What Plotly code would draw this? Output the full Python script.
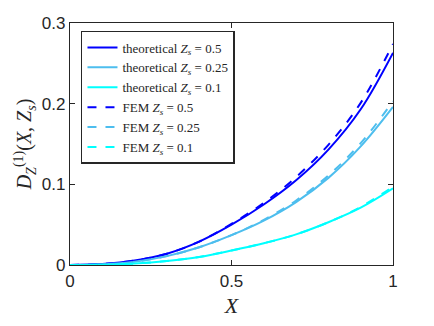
import plotly.graph_objects as go

# X positions and values
x_vals = [0, 0.1, 0.2, 0.3, 0.4, 0.5, 0.6, 0.7, 0.8, 0.9, 1.0]

theo_05 = [0, 0.0012, 0.0055, 0.014, 0.029, 0.050, 0.075, 0.105, 0.143, 0.193, 0.263]
theo_025 = [0, 0.0008, 0.004, 0.011, 0.022, 0.037, 0.055, 0.078, 0.108, 0.147, 0.196]
theo_01 = [0, 0.0003, 0.0018, 0.005, 0.010, 0.018, 0.027, 0.038, 0.053, 0.071, 0.095]

fem_05 = [0, 0.0012, 0.0055, 0.014, 0.029, 0.051, 0.077, 0.109, 0.149, 0.201, 0.274]
fem_025 = [0, 0.0008, 0.004, 0.011, 0.022, 0.037, 0.056, 0.080, 0.111, 0.151, 0.203]
fem_01 = [0, 0.0003, 0.0018, 0.005, 0.010, 0.018, 0.027, 0.038, 0.053, 0.072, 0.097]

zs_labels = ["0.5", "0.25", "0.1"]
colors = ["#0000ff", "#4dbeee", "#00ffff"]

fig = go.Figure()

for ys, zs, c in zip([theo_05, theo_025, theo_01], zs_labels, colors):
    fig.add_trace(go.Scatter(
        x=x_vals, y=ys, mode="lines", line_shape="spline",
        line=dict(color=c, width=2),
        name=f"theoretical <i>Z<sub>s</sub></i> = {zs}"))

for ys, zs, c in zip([fem_05, fem_025, fem_01], zs_labels, colors):
    fig.add_trace(go.Scatter(
        x=x_vals, y=ys, mode="lines", line_shape="spline",
        line=dict(color=c, width=2, dash="dash"),
        name=f"FEM <i>Z<sub>s</sub></i> = {zs}"))

axis_style = dict(
    showline=True, linecolor="#262626", linewidth=1.2, mirror="ticks",
    ticks="inside", ticklen=5, tickcolor="#262626",
    showgrid=False, zeroline=False, automargin=False,
    tickfont=dict(family="Liberation Sans, Arial", size=17, color="#262626"),
)

fig.update_xaxes(range=[0, 1], tickvals=[0, 0.5, 1], ticktext=["0", "0.5", "1"],
                 title=dict(text="<i>X</i>", font=dict(family="Liberation Serif", size=22, color="#262626"),
                            standoff=8),
                 **axis_style)
fig.update_yaxes(range=[0, 0.3], tickvals=[0, 0.1, 0.2, 0.3], ticktext=["0", "0.1", "0.2", "0.3"],
                 title=dict(text="<i>D</i><sub><i>Z</i></sub><sup>(1)</sup>(<i>X</i>, <i>Z<sub>s</sub></i>)",
                            font=dict(family="Liberation Serif", size=20, color="#262626"),
                            standoff=4),
                 **axis_style)

# the page adds an 8px body margin, so the figure is placed 8px in
fig.update_layout(
    width=426, height=318,
    margin=dict(l=62, r=41, t=15, b=61),
    paper_bgcolor="white", plot_bgcolor="white",
    legend=dict(
        x=0.034, y=0.967, xanchor="left", yanchor="top",
        bgcolor="white", bordercolor="#262626", borderwidth=1.5,
        font=dict(family="Liberation Serif", size=13, color="#262626"),
        tracegroupgap=0, itemwidth=30,
    ),
)

fig.write_html("out.html")
